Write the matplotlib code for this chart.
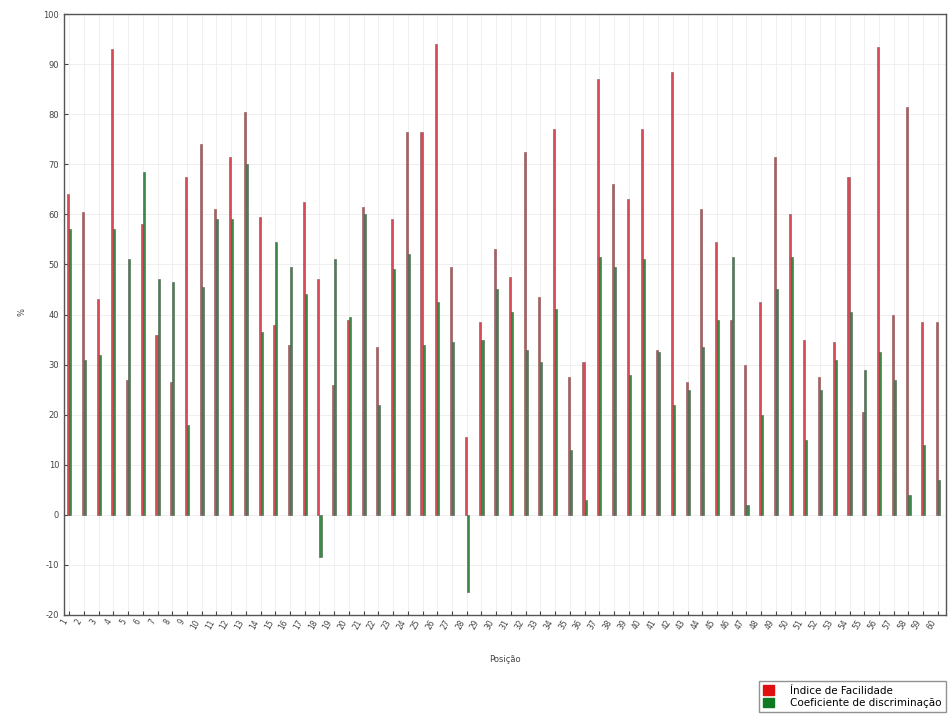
import numpy as np
import matplotlib
matplotlib.use('Agg')
import matplotlib.pyplot as plt
from matplotlib.patches import Patch

plt.rcParams['axes.unicode_minus'] = False

# values, positions 1..60
posicao = list(range(1, 61))

facilidade = [64, 60.5, 43, 93, 27, 58, 36, 26.5, 67.5, 74,
              61, 71.5, 80.5, 59.5, 38, 34, 62.5, 47, 26, 39,
              61.5, 33.5, 59, 76.5, 76.5, 94, 49.5, 15.5, 38.5, 53,
              47.5, 72.5, 43.5, 77, 27.5, 30.5, 87, 66, 63, 77,
              33, 88.5, 26.5, 61, 54.5, 39, 30, 42.5, 71.5, 60,
              35, 27.5, 34.5, 67.5, 20.5, 93.5, 40, 81.5, 38.5, 38.5]

discriminacao = [57, 31, 32, 57, 51, 68.5, 47, 46.5, 18, 45.5,
                 59, 59, 70, 36.5, 54.5, 49.5, 44, -8.5, 51, 39.5,
                 60, 22, 49, 52, 34, 42.5, 34.5, -15.5, 35, 45,
                 40.5, 33, 30.5, 41, 13, 3, 51.5, 49.5, 28, 51,
                 32.5, 22, 25, 33.5, 39, 51.5, 2, 20, 45, 51.5,
                 15, 25, 31, 40.5, 29, 32.5, 27, 4, 14, 7]

legend_labels = ['Índice de Facilidade', 'Coeficiente de discriminação']

fig = plt.figure(figsize=(9.49, 7.14), dpi=100)
ax = fig.add_axes([64/949, 1 - 615/714, (946-64)/949, (615-14)/714])

x = np.array(posicao)
w = 0.14
ax.bar(x - w/2, facilidade, width=w, color='#d84a55', edgecolor='#7a5555', linewidth=0.4, zorder=3)
ax.bar(x + w/2, discriminacao, width=w, color='#3a8a48', edgecolor='#4d5d4d', linewidth=0.4, zorder=3)

ax.set_xlim(0.65, 60.55)
ax.set_ylim(-20, 100)
ax.set_yticks(np.arange(-20, 101, 10))
ax.set_xticks(x)
ax.set_xticklabels([str(p) for p in posicao], rotation=60, ha='right', fontsize=5.5, color='#444444')
ax.tick_params(axis='y', labelsize=6, colors='#444444', direction='in', length=3)
ax.tick_params(axis='x', direction='in', length=3, pad=2, colors='#444444')
ax.grid(True, color='#ececec', linewidth=0.6, linestyle='-', zorder=0)
ax.set_axisbelow(True)
for s in ax.spines.values():
    s.set_color('#555555')
    s.set_linewidth(1.0)

fig.text(505/949, 1 - 660/714, 'Posição', ha='center', va='center', fontsize=6, color='#444444')
fig.text(22/949, 1 - 312/714, '%', ha='center', va='center', fontsize=6, rotation=90, color='#444444')

# legend sits below the plot, bottom right corner of the figure
handles = [Patch(facecolor='#e01010', edgecolor='#e01010'),
           Patch(facecolor='#107a20', edgecolor='#107a20')]
leg = fig.legend(handles, legend_labels, loc='lower right', bbox_to_anchor=(946/949, 2/714),
                 fontsize=7.5, frameon=True, fancybox=False, edgecolor='#777777',
                 handlelength=1.0, handleheight=1.0, borderpad=0.4, labelspacing=0.2,
                 handletextpad=1.6, borderaxespad=0)
leg.get_frame().set_linewidth(1.0)

fig.savefig('out.png', dpi=100)
